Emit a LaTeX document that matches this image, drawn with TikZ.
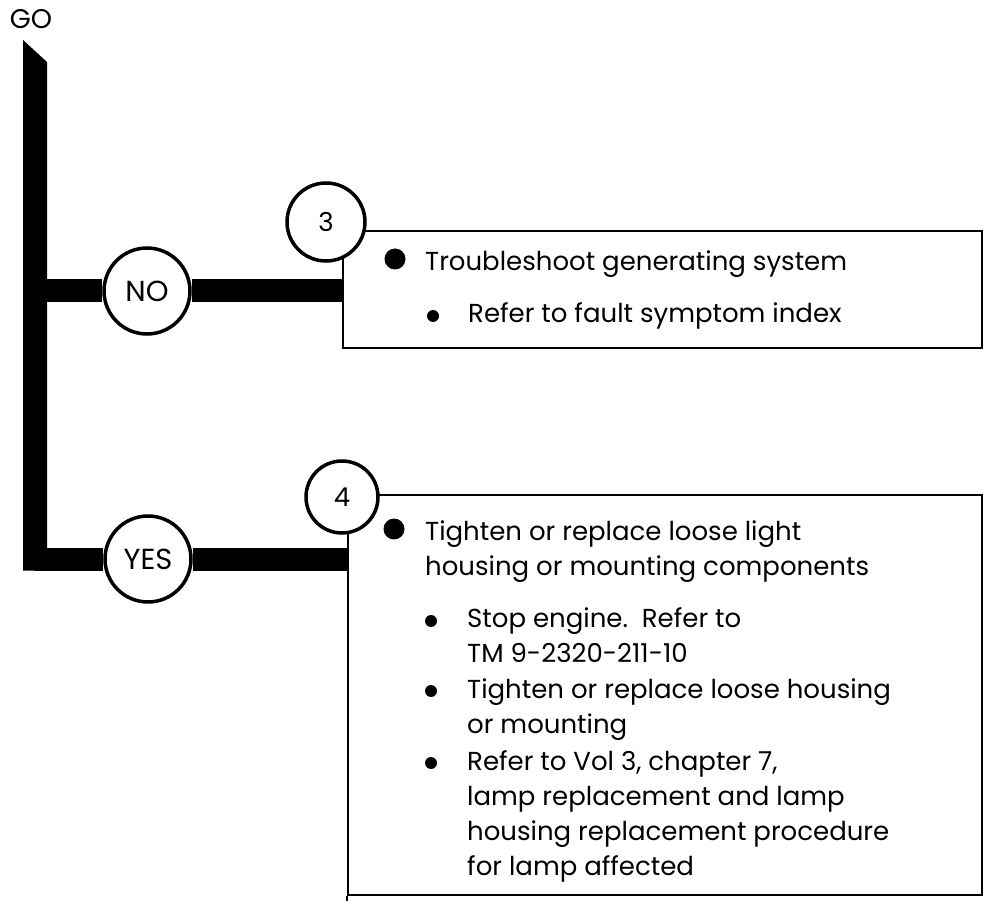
\documentclass[tikz,border=0pt]{standalone}
\usepackage{fontspec}
\newfontfamily\chartfont{Poppins}
\usepackage{tikz}
\usetikzlibrary{positioning}

\begin{document}
\begin{tikzpicture}[x=1pt,y=-1pt,
  decision/.style={circle,draw=black,line width=3.5pt,fill=white,minimum size=86pt,inner sep=0pt,font=\chartfont\fontsize{29}{29}\selectfont},
  stepnum/.style={circle,draw=black,line width=3.5pt,fill=white,inner sep=0pt,font=\chartfont\fontsize{26}{26}\selectfont},
  actionbox/.style={rectangle,draw=black,line width=2.5pt,inner sep=0pt},
  branch/.style={line width=23pt},
  bigdot/.style={circle,fill=black,minimum size=21pt,inner sep=0pt},
  smalldot/.style={circle,fill=black,minimum size=12pt,inner sep=0pt},
  steptext/.style={anchor=north west,inner sep=0pt,align=left,font=\chartfont\fontsize{26}{35}\selectfont}]
\useasboundingbox[fill=white] (0,0) rectangle (989,901);

\node at (31,19)[inner sep=0pt,font=\chartfont\fontsize{27}{27}\selectfont](go){GO};

\coordinate (trunktop) at (23,40);
\coordinate (trunkfoot) at (47,570.5);
\coordinate (nofork) at (35,291);
\coordinate (yesfork) at (35,559);
\fill (trunktop) -- ++(24,22) -- (trunkfoot) -- (trunktop |- trunkfoot) -- cycle;

\node at (662.5,289.5)[actionbox,minimum width=639pt,minimum height=117pt](box3){};
\node at (665,695)[actionbox,minimum width=634pt,minimum height=400pt](box4){};
\draw[line width=2.5pt] (box4.south west) -- ++(0,6);

\node at (326,222)[stepnum,minimum size=78pt](n3){3};
\node at (342,497)[stepnum,minimum size=72pt](n4){4};
\node at (147,291)[decision](no){NO};
\node at (148,559)[decision](yes){YES};

\draw[branch] (nofork) -- (no);
\draw[branch] (no) -- (no -| box3.west);
\draw[branch] (yesfork) -- (yes);
\draw[branch] (yes) -- (yes -| box4.west);

\node at (395,259)[bigdot](d3){};
\node at (425,246)[steptext](t3){\rule{0pt}{24pt}Troubleshoot generating system};
\node at (433,316)[smalldot](d3a){};
\node at (468,298)[steptext](t3a){\rule{0pt}{24pt}Refer to fault symptom index};

\node at (394,529)[bigdot](d4){};
\node at (425,516)[steptext](t4){\rule{0pt}{24pt}Tighten or replace loose light\\housing or mounting components};
\node at (431,621)[smalldot](d4a){};
\node at (467,603)[steptext](t4a){\rule{0pt}{24pt}Stop engine.\ \ Refer to\\TM 9-2320-211-10};
\node at (431,691)[smalldot](d4b){};
\node at (467,674)[steptext](t4b){\rule{0pt}{24pt}Tighten or replace loose housing\\or mounting};
\node at (431,763)[smalldot](d4c){};
\node at (467,746)[steptext](t4c){\rule{0pt}{24pt}Refer to Vol 3, chapter 7,\\lamp replacement and lamp\\housing replacement procedure\\for lamp affected};
\end{tikzpicture}
\end{document}
